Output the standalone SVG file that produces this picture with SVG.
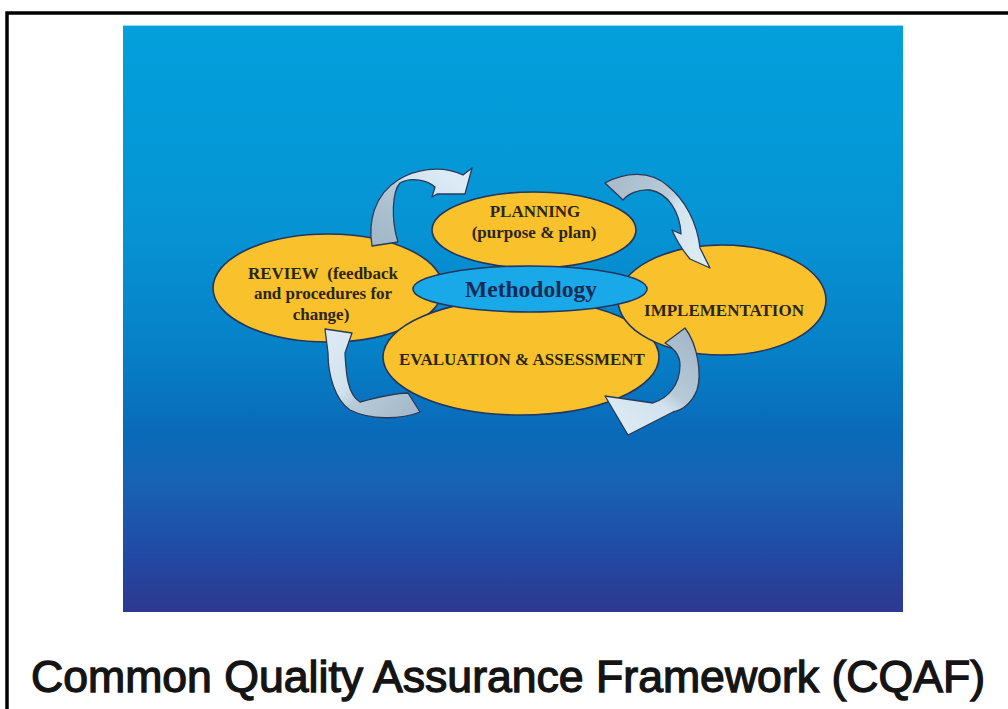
<svg xmlns="http://www.w3.org/2000/svg" width="1008" height="709" viewBox="0 0 1008 709">
  <defs>
    <linearGradient id="bgGrad" x1="0" y1="0" x2="0" y2="1">
      <stop offset="0" stop-color="#02a0dc"/>
      <stop offset="0.35" stop-color="#0693d4"/>
      <stop offset="0.55" stop-color="#0681c8"/>
      <stop offset="0.70" stop-color="#0a69b8"/>
      <stop offset="0.78" stop-color="#1862b4"/>
      <stop offset="0.90" stop-color="#214aa4"/>
      <stop offset="1" stop-color="#2d3890"/>
    </linearGradient>
    <linearGradient id="arrow1Grad" gradientUnits="userSpaceOnUse" x1="385" y1="240" x2="440" y2="170">
      <stop offset="0" stop-color="#a3b8c8"/>
      <stop offset="0.55" stop-color="#b4c8d6"/>
      <stop offset="0.7" stop-color="#d4e5f0"/>
      <stop offset="1" stop-color="#dbeaf3"/>
    </linearGradient>
    <linearGradient id="arrow2Grad" gradientUnits="userSpaceOnUse" x1="612" y1="188" x2="700" y2="250">
      <stop offset="0" stop-color="#a9bccb"/>
      <stop offset="0.45" stop-color="#b9cbd8"/>
      <stop offset="0.6" stop-color="#d3e4ef"/>
      <stop offset="1" stop-color="#dceaf3"/>
    </linearGradient>
    <linearGradient id="arrow3Grad" gradientUnits="userSpaceOnUse" x1="680" y1="335" x2="620" y2="420">
      <stop offset="0" stop-color="#a6bacb"/>
      <stop offset="0.5" stop-color="#b7cad8"/>
      <stop offset="0.65" stop-color="#d2e3ee"/>
      <stop offset="1" stop-color="#dbe9f3"/>
    </linearGradient>
    <linearGradient id="arrow4Grad" gradientUnits="userSpaceOnUse" x1="415" y1="405" x2="335" y2="335">
      <stop offset="0" stop-color="#a6bacb"/>
      <stop offset="0.45" stop-color="#b9cbd8"/>
      <stop offset="0.6" stop-color="#d2e3ee"/>
      <stop offset="1" stop-color="#dbe9f3"/>
    </linearGradient>
    <style>
      .stage { fill: #f9c12c; stroke: #22365f; stroke-width: 1.6; }
      .core { fill: #1aa9e8; stroke: #22365f; stroke-width: 1.6; }
      .label { font-family: "Liberation Serif", "Times New Roman", serif; font-weight: bold; font-size: 17px; fill: #2b2614; text-anchor: middle; }
      .coreLabel { font-family: "Liberation Serif", "Times New Roman", serif; font-weight: bold; font-size: 23.5px; fill: #142c55; text-anchor: middle; }
      .arrow { stroke: #2a3a58; stroke-width: 1.3; stroke-linejoin: round; }
      .title { font-family: "Liberation Sans", Arial, sans-serif; font-size: 44px; fill: #141414; stroke: #141414; stroke-width: 1.3; }
    </style>
  </defs>

  <!-- page background and frame -->
  <rect x="0" y="0" width="1008" height="709" fill="#ffffff"/>
  <path d="M7,720 V13 H1015" fill="none" stroke="#000000" stroke-width="3.5"/>

  <!-- slide panel -->
  <rect x="123" y="25" width="780" height="587" fill="url(#bgGrad)"/>
  <line x1="123" y1="25.5" x2="903" y2="25.5" stroke="#8fdcf2" stroke-width="1.2"/>

  <!-- cycle stages -->
  <g id="review">
    <ellipse class="stage" cx="328" cy="288" rx="115" ry="54"/>
    <text class="label" x="323" y="279">REVIEW&#160; (feedback</text>
    <text class="label" x="323" y="299">and procedures for</text>
    <text class="label" x="321" y="320">change)</text>
  </g>
  <g id="planning">
    <ellipse class="stage" cx="534" cy="230" rx="102" ry="38"/>
    <text class="label" x="535" y="217">PLANNING</text>
    <text class="label" x="534" y="238">(purpose &amp; plan)</text>
  </g>
  <g id="evaluation">
    <ellipse class="stage" cx="521" cy="357" rx="138" ry="58"/>
    <text class="label" x="522" y="365">EVALUATION &amp; ASSESSMENT</text>
  </g>
  <g id="implementation">
    <ellipse class="stage" cx="722" cy="300" rx="104" ry="55"/>
    <text class="label" x="724" y="316">IMPLEMENTATION</text>
  </g>
  <g id="methodology">
    <ellipse class="core" cx="530" cy="289" rx="117" ry="23"/>
    <text class="coreLabel" x="531" y="297">Methodology</text>
  </g>

  <!-- curved cycle arrows -->
  <g id="connectors">
    <path class="arrow" fill="url(#arrow1Grad)" d="M372,246 C368,222 374,195 398,180 C414,170 440,164 463,175 L472,168 L465,194 L437,194 L432,197 L435,187 C428,181 412,176 400,183 C392,192 391,220 398,242 Z"/>
    <path class="arrow" fill="url(#arrow2Grad)" d="M605,183 C625,172 650,170 668,186 C685,200 697,222 700,248 L710,268 L690,259 C684,252 678,244 672,230 L681,234 C680,212 668,193 650,190 C638,189 628,194 623,200 Z"/>
    <path class="arrow" fill="url(#arrow3Grad)" d="M685,328 C698,345 702,375 697,390 C692,402 683,410 673,412 L628,435 L605,396 L653,403 C668,398 680,385 680,365 C680,355 673,347 665,343 Z"/>
    <path class="arrow" fill="url(#arrow4Grad)" d="M420,412 C400,420 370,420 350,410 C335,400 328,375 328,353 L325,329 L352,333 L345,353 C346,375 348,395 360,402 C375,398 395,393 408,393 Z"/>
  </g>

  <!-- caption -->
  <text class="title" x="31" y="692" textLength="954" lengthAdjust="spacingAndGlyphs">Common Quality Assurance Framework (CQAF)</text>
</svg>
